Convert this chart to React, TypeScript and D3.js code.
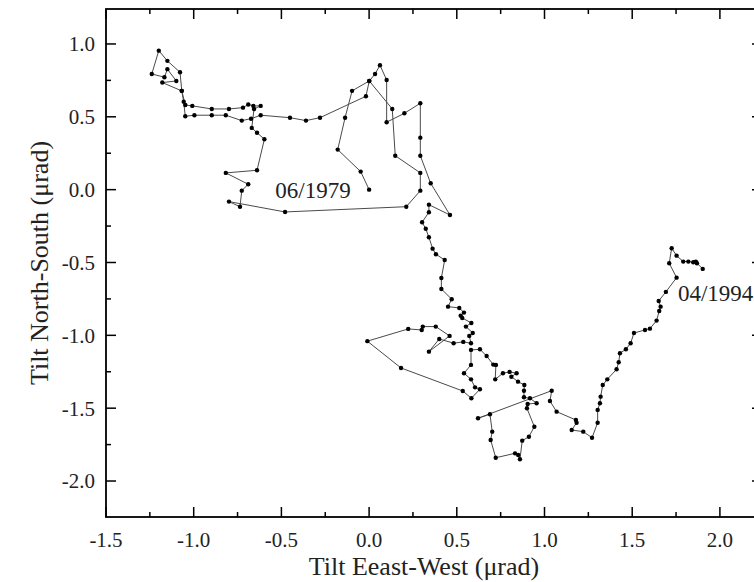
import React from 'react';
import * as d3 from 'd3';

// Tilt East-West (µrad), chronological path from 06/1979 to 04/1994
const tiltEW = [
  0.0, -0.048, -0.179, -0.137, -0.097, 0.001, -0.018, -0.28, -0.36, -0.451,
  -0.618, -0.673, -0.726, -0.817, -0.897, -0.996, -1.048, -1.057, -1.068, -1.078,
  -1.15, -1.199, -1.239, -1.167, -1.15, -1.099, -1.179, -1.068, -1.048, -1.008,
  -0.897, -0.799, -0.719, -0.689, -0.66, -0.618, -0.656, -0.669, -0.639, -0.597,
  -0.639, -0.817, -0.689, -0.726, -0.736, -0.799, -0.479, 0.212, 0.292, 0.292,
  0.149, 0.132, 0.001, 0.034, 0.062, 0.1, 0.1, 0.201, 0.292, 0.292,
  0.292, 0.351, 0.461, 0.341, 0.341, 0.302, 0.323, 0.341, 0.362, 0.381,
  0.431, 0.412, 0.412, 0.471, 0.45, 0.514, 0.541, 0.522, 0.531, 0.583,
  0.552, 0.591, 0.571, 0.581, 0.537, 0.482, 0.4, 0.341, 0.459, 0.38,
  0.306, 0.3, 0.223, -0.01, 0.182, 0.534, 0.583, 0.632, 0.604, 0.581,
  0.541, 0.581, 0.581, 0.632, 0.67, 0.708, 0.723, 0.719, 0.763, 0.801,
  0.841, 0.811, 0.849, 0.885, 0.883, 0.883, 0.917, 0.955, 0.904, 0.9,
  0.942, 0.911, 0.873, 0.86, 0.85, 0.832, 0.722, 0.693, 0.702, 0.689,
  0.621, 1.041, 1.031, 1.069, 1.179, 1.183, 1.155, 1.221, 1.271, 1.303,
  1.303, 1.316, 1.32, 1.332, 1.358, 1.411, 1.423, 1.43, 1.464, 1.491,
  1.51, 1.573, 1.601, 1.639, 1.654, 1.662, 1.651, 1.692, 1.753, 1.711,
  1.725, 1.753, 1.791, 1.82, 1.848, 1.863, 1.869, 1.902,
];

// Tilt North-South (µrad)
const tiltNS = [
  0.0, 0.124, 0.275, 0.494, 0.678, 0.746, 0.641, 0.494, 0.474, 0.494,
  0.511, 0.487, 0.474, 0.511, 0.511, 0.511, 0.504, 0.604, 0.678, 0.806,
  0.884, 0.954, 0.794, 0.772, 0.827, 0.746, 0.735, 0.678, 0.581, 0.575,
  0.554, 0.554, 0.563, 0.584, 0.575, 0.575, 0.554, 0.424, 0.391, 0.346,
  0.133, 0.115, 0.037, -0.007, -0.117, -0.082, -0.153, -0.117, -0.007, 0.115,
  0.233, 0.554, 0.746, 0.794, 0.854, 0.753, 0.463, 0.524, 0.593, 0.357,
  0.233, 0.044, -0.174, -0.103, -0.155, -0.224, -0.268, -0.327, -0.405, -0.443,
  -0.483, -0.606, -0.682, -0.752, -0.803, -0.812, -0.844, -0.865, -0.881, -0.915,
  -0.94, -0.984, -1.004, -1.054, -1.045, -1.054, -1.025, -1.112, -1.004, -0.94,
  -0.94, -0.963, -0.956, -1.04, -1.224, -1.382, -1.432, -1.37, -1.357, -1.302,
  -1.26, -1.203, -1.1, -1.096, -1.142, -1.201, -1.203, -1.302, -1.26, -1.251,
  -1.26, -1.284, -1.318, -1.341, -1.38, -1.425, -1.432, -1.466, -1.471, -1.501,
  -1.627, -1.696, -1.723, -1.851, -1.821, -1.81, -1.84, -1.718, -1.661, -1.542,
  -1.569, -1.38, -1.451, -1.524, -1.581, -1.6, -1.65, -1.661, -1.703, -1.6,
  -1.512, -1.466, -1.421, -1.341, -1.302, -1.233, -1.185, -1.123, -1.096, -1.054,
  -0.984, -0.963, -0.954, -0.899, -0.833, -0.803, -0.764, -0.702, -0.604, -0.505,
  -0.402, -0.453, -0.494, -0.494, -0.498, -0.494, -0.505, -0.544,
];

const xTickValues = [-1.5, -1.0, -0.5, 0.0, 0.5, 1.0, 1.5, 2.0];
const xTickLabels = ['-1.5', '-1.0', '-0.5', '0.0', '0.5', '1.0', '1.5', '2.0'];
const xMinorTicks = [-1.25, -0.75, -0.25, 0.25, 0.75, 1.25, 1.75];
const yTickValues = [-2.0, -1.5, -1.0, -0.5, 0.0, 0.5, 1.0];
const yTickLabels = ['-2.0', '-1.5', '-1.0', '-0.5', '0.0', '0.5', '1.0'];
const yMinorTicks = [-1.75, -1.25, -0.75, -0.25, 0.25, 0.75];

const annotationTexts = ['06/1979', '04/1994'];
const annotationX = [-0.32, 1.761];
const annotationY = [-0.057, -0.762];
const annotationAnchor = ['middle', 'start'];

const xTitle = 'Tilt Eeast-West (μrad)';
const yTitle = 'Tilt North-South (μrad)';

const W = 754;
const H = 582;
const FONT = '"Liberation Serif", "Times New Roman", serif';

export default function App() {
  const x = d3.scaleLinear().domain([-1.5, 2.24]).range([106, 762]);
  const y = d3.scaleLinear().domain([-2.247, 1.24]).range([517, 9]);

  const pts = tiltEW.map((v, i) => [v, tiltNS[i]] as [number, number]);
  const line = d3
    .line<[number, number]>()
    .x((d) => x(d[0]))
    .y((d) => y(d[1]));

  const [x0, x1] = x.range();
  const [yb, yt] = y.range();
  const majLen = 10;
  const minLen = 5;

  return (
    <svg
      width={W}
      height={H}
      style={{ position: 'absolute', left: 0, top: 0, background: '#fff' }}
      fontFamily={FONT}
    >
      <rect x={0} y={0} width={W} height={H} fill="#fff" />
      {/* data path */}
      <path d={line(pts) || ''} fill="none" stroke="#4a4a4a" strokeWidth={1} />
      {pts.map((d, i) => (
        <circle key={i} cx={x(d[0])} cy={y(d[1])} r={2.2} fill="#000" />
      ))}

      {/* ticks */}
      <g stroke="#000" strokeWidth={1.5}>
        {xTickValues.map((v, i) => (
          <g key={'xt' + i}>
            <line x1={x(v)} x2={x(v)} y1={yb} y2={yb - majLen} />
            <line x1={x(v)} x2={x(v)} y1={yt} y2={yt + majLen} />
          </g>
        ))}
        {xMinorTicks.map((v, i) => (
          <g key={'xm' + i}>
            <line x1={x(v)} x2={x(v)} y1={yb} y2={yb - minLen} />
            <line x1={x(v)} x2={x(v)} y1={yt} y2={yt + minLen} />
          </g>
        ))}
        {yTickValues.map((v, i) => (
          <g key={'yt' + i}>
            <line x1={x0} x2={x0 + majLen} y1={y(v)} y2={y(v)} />
            <line x1={x1} x2={x1 - majLen} y1={y(v)} y2={y(v)} />
          </g>
        ))}
        {yMinorTicks.map((v, i) => (
          <g key={'ym' + i}>
            <line x1={x0} x2={x0 + minLen} y1={y(v)} y2={y(v)} />
            <line x1={x1} x2={x1 - minLen} y1={y(v)} y2={y(v)} />
          </g>
        ))}
      </g>

      {/* frame */}
      <rect
        x={x0}
        y={yt}
        width={x1 - x0}
        height={yb - yt}
        fill="none"
        stroke="#000"
        strokeWidth={1.8}
      />

      {/* tick labels */}
      <g fontSize={21} fill="#222">
        {xTickValues.map((v, i) => (
          <text key={'xl' + i} x={x(v)} y={547} textAnchor="middle">
            {xTickLabels[i]}
          </text>
        ))}
        {yTickValues.map((v, i) => (
          <text key={'yl' + i} x={95} y={y(v)} dy="0.35em" textAnchor="end">
            {yTickLabels[i]}
          </text>
        ))}
      </g>

      {/* annotations */}
      <g fontSize={23} fill="#222">
        {annotationTexts.map((t, i) => (
          <text
            key={'an' + i}
            x={x(annotationX[i])}
            y={y(annotationY[i])}
            textAnchor={annotationAnchor[i] as any}
          >
            {t}
          </text>
        ))}
      </g>

      {/* axis titles */}
      <text x={424} y={575} fontSize={26} textAnchor="middle" fill="#222">
        {xTitle}
      </text>
      <text
        transform={`translate(48, ${(yt + yb) / 2}) rotate(-90)`}
        fontSize={26}
        textAnchor="middle"
        fill="#222"
      >
        {yTitle}
      </text>
    </svg>
  );
}
